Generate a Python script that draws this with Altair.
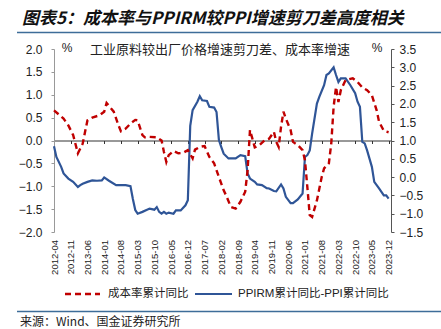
import altair as alt
import pandas as pd

# ---------------- data ----------------
tick_labels = ["2012-04", "2012-11", "2013-06", "2014-01", "2014-08", "2015-03", "2015-10",
               "2016-05", "2016-12", "2017-07", "2018-02", "2018-09", "2019-04", "2019-11",
               "2020-06", "2021-01", "2021-08", "2022-03", "2022-10", "2023-05", "2023-12"]

cost_months = ["2012-04","2012-08","2012-10","2012-12","2013-02","2013-04","2013-05","2013-06","2013-08","2013-11",
               "2014-01","2014-02","2014-05","2014-07","2014-08","2014-10","2014-12","2015-02","2015-03","2015-05",
               "2015-06","2015-08","2015-11","2016-01","2016-02","2016-03","2016-04","2016-06","2016-08","2016-10",
               "2016-12","2017-02","2017-03","2017-05","2017-07","2017-09","2017-11","2018-01","2018-03","2018-04",
               "2018-06","2018-08","2018-10","2018-12","2019-01","2019-02","2019-03","2019-04","2019-06","2019-08",
               "2019-10","2019-12","2020-01","2020-02","2020-03","2020-04","2020-05","2020-07","2020-08","2020-10",
               "2020-12","2021-01","2021-02","2021-03","2021-04","2021-06","2021-08","2021-09","2021-11","2021-12",
               "2022-01","2022-02","2022-03","2022-04","2022-06","2022-09","2022-11","2023-01","2023-03","2023-05",
               "2023-07","2023-08","2023-10","2023-12"]
cost_values = [0.66,0.48,0.33,0.12,-0.28,-0.07,0.19,0.44,0.50,0.55,
               0.63,0.82,0.63,0.33,0.20,0.26,0.37,0.45,0.44,0.12,
               0.07,0.08,0.07,0.00,-0.25,-0.47,-0.32,-0.23,-0.28,-0.27,
               -0.21,-0.39,-0.20,-0.14,-0.12,-0.36,-0.50,-0.80,-1.09,-1.20,
               -1.45,-1.49,-1.34,-1.12,-0.65,0.23,0.04,-0.15,-0.10,0.00,
               0.04,0.19,-0.03,-0.14,0.30,0.63,0.48,0.23,-0.03,-0.10,
               -0.21,-0.43,-1.02,-1.63,-1.67,-1.31,-0.80,-0.61,-0.50,-0.07,
               0.74,1.17,0.84,1.10,1.32,1.36,1.28,1.16,1.10,0.99,
               0.66,0.41,0.21,0.18]

gap_months = ["2012-04","2012-05","2012-07","2012-08","2012-10","2012-12","2013-02","2013-03","2013-04","2013-06",
              "2013-08","2013-10","2013-12","2014-01","2014-03","2014-06","2014-08","2014-10","2014-12","2015-01",
              "2015-02","2015-03","2015-05","2015-08","2015-10","2015-11","2015-12","2016-01","2016-02","2016-03",
              "2016-04","2016-06","2016-07","2016-09","2016-11","2016-12","2017-01","2017-02","2017-04","2017-05",
              "2017-06","2017-08","2017-09","2017-11","2017-12","2018-01","2018-02","2018-03","2018-05","2018-08",
              "2018-10","2018-12","2019-01","2019-02","2019-04","2019-05","2019-07","2019-09","2019-10","2019-12",
              "2020-01","2020-03","2020-04","2020-05","2020-07","2020-08","2020-10","2020-12","2021-01","2021-02",
              "2021-03","2021-04","2021-06","2021-07","2021-09","2021-10","2021-11","2022-01","2022-02","2022-03",
              "2022-04","2022-06","2022-08","2022-10","2022-11","2022-12","2023-01","2023-02","2023-03","2023-05",
              "2023-06","2023-08","2023-10","2023-11","2023-12"]
gap_values = [0.84,0.55,0.28,0.10,-0.04,-0.13,-0.27,-0.22,-0.18,-0.13,
              -0.09,-0.10,-0.09,-0.01,-0.10,-0.22,-0.22,-0.22,-0.25,-0.60,
              -0.90,-1.00,-0.95,-0.86,-0.89,-0.82,-0.95,-1.00,-0.95,-1.00,
              -0.97,-1.00,-0.91,-0.91,-0.77,-0.63,1.40,1.83,2.06,2.21,
              2.10,2.08,1.92,1.90,1.78,1.01,0.82,0.64,0.51,0.51,
              0.60,0.57,0.10,-0.04,-0.13,-0.20,-0.22,-0.30,-0.31,-0.38,
              -0.39,-0.20,-0.31,-0.54,-0.71,-0.71,-0.61,-0.45,0.55,0.60,
              0.73,1.19,2.01,2.19,2.51,2.79,2.83,3.00,2.79,2.60,
              2.70,2.70,2.51,2.29,2.06,1.92,0.96,0.92,0.73,0.28,
              -0.13,-0.31,-0.50,-0.50,-0.59]

left_ticks = [-2.0, -1.5, -1.0, -0.5, 0.0, 0.5, 1.0, 1.5, 2.0]
right_ticks = [-1.5, -1.0, -0.5, 0.0, 0.5, 1.0, 1.5, 2.0, 2.5, 3.0, 3.5]

title_text = "图表5：成本率与PPIRM较PPI增速剪刀差高度相关"
subtitle_text = "工业原料较出厂价格增速剪刀差、成本率增速"
cost_name = "成本率累计同比"
gap_name = "PPIRM累计同比-PPI累计同比"
source_text = "来源：Wind、国金证券研究所"

# ---------------- build ----------------
FONT = "Liberation Sans, Noto Sans CJK SC"
CJK = "Noto Sans CJK SC"
RED = "#c00000"
BLUE = "#2f5597"
W, H = 337, 183
FIRST = tick_labels[0]


def month_index(s):
    y, m = s.split("-")
    y0, m0 = FIRST.split("-")
    return (int(y) - int(y0)) * 12 + int(m) - int(m0)


n_months = month_index(tick_labels[-1])
step = month_index(tick_labels[1])

cost_df = pd.DataFrame({"t": [month_index(m) for m in cost_months], "v": cost_values, "month": cost_months})
gap_df = pd.DataFrame({"t": [month_index(m) for m in gap_months], "v": gap_values, "month": gap_months})

label_array = "[" + ",".join("'" + s + "'" for s in tick_labels) + "]"
x_axis = alt.Axis(
    values=[month_index(s) for s in tick_labels],
    labelExpr=f"{label_array}[round(datum.value/{step})]",
    labelAngle=-90, labelFontSize=9.5, labelFont=FONT, labelColor="#222",
    offset=-H / 2, labelPadding=96, tickSize=3, tickColor="#333",
    domainColor="#333", grid=False, title=None,
)
x_enc = alt.X("t:Q", scale=alt.Scale(domain=[0, n_months + 1], nice=False, zero=False), axis=x_axis)

gap_line = alt.Chart(gap_df).mark_line(color=BLUE, strokeWidth=2.2).encode(
    x=x_enc,
    y=alt.Y("v:Q", scale=alt.Scale(domain=[right_ticks[0], right_ticks[-1]], nice=False, zero=False),
            axis=alt.Axis(orient="right", values=right_ticks, format=".1f", grid=False, title=None,
                          labelFontSize=12, labelFont=FONT, labelColor="#222", tickSize=3,
                          tickColor="#555", domainColor="#555", labelPadding=5)),
)

cost_line = alt.Chart(cost_df).mark_line(color=RED, strokeWidth=2.4, strokeDash=[6, 4]).encode(
    x=x_enc,
    y=alt.Y("v:Q", scale=alt.Scale(domain=[left_ticks[0], left_ticks[-1]], nice=False, zero=False),
            axis=alt.Axis(orient="left", values=left_ticks, format=".1f", grid=False, title=None,
                          labelFontSize=12, labelFont=FONT, labelColor="#222", tickSize=3,
                          tickColor="#999", domainColor="#999", labelPadding=9)),
)

one = pd.DataFrame({"k": [0]})


def text_layer(txt, x, y, size, font=FONT, align="left", **kw):
    return alt.Chart(pd.DataFrame({"text": [txt]})).mark_text(
        align=align, baseline="middle", fontSize=size, font=font, **kw
    ).encode(x=alt.value(x), y=alt.value(y), text="text:N")


def hline(x1, x2, y, color, width, dash=None):
    kw = {"color": color, "strokeWidth": width}
    if dash:
        kw["strokeDash"] = dash
    return alt.Chart(one).mark_rule(**kw).encode(x=alt.value(x1), x2=alt.value(x2), y=alt.value(y))


decor = [
    text_layer(title_text, -32, -30, 17, font=CJK, fontWeight="bold", fontStyle="italic", color="#111"),
    hline(-37, 387, -16.5, "#3d6d99", 1.5),
    text_layer("%", 13, -1, 12, color="#222", align="center"),
    text_layer("%", 323, -1, 12, color="#222", align="center"),
    text_layer(subtitle_text, 166, 1, 13, font=CJK, color="#222", align="center"),
    hline(11, 46, 245, RED, 2.4, [6, 4]),
    text_layer(cost_name, 54, 245, 11.5, color="#222"),
    hline(141, 178, 245, BLUE, 2.2),
    text_layer(gap_name, 184, 245, 11.5, color="#222"),
    hline(-37, 387, 262.5, "#3d6d99", 1.5),
    text_layer(source_text, -34, 273, 12, font=CJK, color="#222"),
]

chart = alt.layer(gap_line, cost_line, *decor).resolve_scale(y="independent").properties(
    width=W, height=H,
    autosize=alt.AutoSizeParams(type="none"),
    padding={"left": 54, "top": 49, "right": 50, "bottom": 97},
    background="white",
).configure_view(strokeWidth=0)

chart.save("out.html", embed_options={"renderer": "svg", "actions": False})
